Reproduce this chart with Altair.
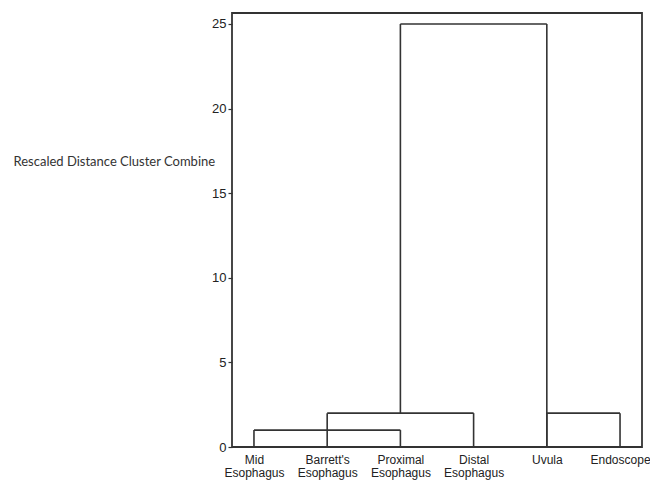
import altair as alt
import pandas as pd

# leaves (x position 1..6)
leaf_labels = ["Mid Esophagus", "Barrett's Esophagus", "Proximal Esophagus",
               "Distal Esophagus", "Uvula", "Endoscope"]
leaf_pos = [1, 2, 3, 4, 5, 6]

# links of the dendrogram
link_left = [1, 2, 3, 5]
link_right = [3, 4, 5, 6]
link_height = [1, 2, 25, 2]
link_left_base = [0, 0, 2, 0]
link_right_base = [0, 0, 0, 0]

y_ticks = [0, 5, 10, 15, 20, 25]

rows = []
for l, r, h, lb, rb in zip(link_left, link_right, link_height, link_left_base, link_right_base):
    rows.append({"x": l, "x2": l, "y": lb, "y2": h})
    rows.append({"x": r, "x2": r, "y": rb, "y2": h})
    rows.append({"x": l, "x2": r, "y": h, "y2": h})
seg = pd.DataFrame(rows)

lines_js = "[" + ",".join(
    "[" + ",".join("'" + w.replace("'", "\\'") + "'" for w in (lab.split(" ") if " " in lab else [lab])) + "]"
    for lab in leaf_labels) + "]"
label_expr = f"{lines_js}[datum.value - 1]"

chart = alt.Chart(seg).mark_rule(color="#333333", strokeWidth=1.6).encode(
    x=alt.X("x:Q", scale=alt.Scale(domain=[0.7, 6.3], nice=False, zero=False),
            axis=alt.Axis(values=leaf_pos, labelExpr=label_expr, title=None, ticks=False,
                          domain=False, grid=False, labelFont="Liberation Sans",
                          labelFontSize=12, labelColor="#222222", labelPadding=7,
                          labelLineHeight=13.5, labelBaseline="top")),
    x2="x2:Q",
    y=alt.Y("y:Q", scale=alt.Scale(domain=[0, 25.65], nice=False),
            axis=alt.Axis(values=y_ticks, title="Rescaled Distance Cluster Combine",
                          titleAngle=0, titleAlign="left", titleBaseline="middle",
                          titleX=-219, titleY=148, titleFont="Lato", titleFontSize=13,
                          titleFontWeight="normal", titleColor="#333333",
                          grid=False, domain=False, tickSize=4, tickColor="#333333",
                          tickWidth=1.2, labelFont="Liberation Sans", labelFontSize=13,
                          labelColor="#222222", labelPadding=2)),
    y2="y2:Q",
).properties(
    width=410, height=434,
    autosize=alt.AutoSizeParams(type="none"),
    padding={"left": 232, "top": 13, "right": 8, "bottom": 34},
).configure_view(stroke="#333333", strokeWidth=1.8)

chart.save("out.html", embed_options={"renderer": "svg", "actions": False})
